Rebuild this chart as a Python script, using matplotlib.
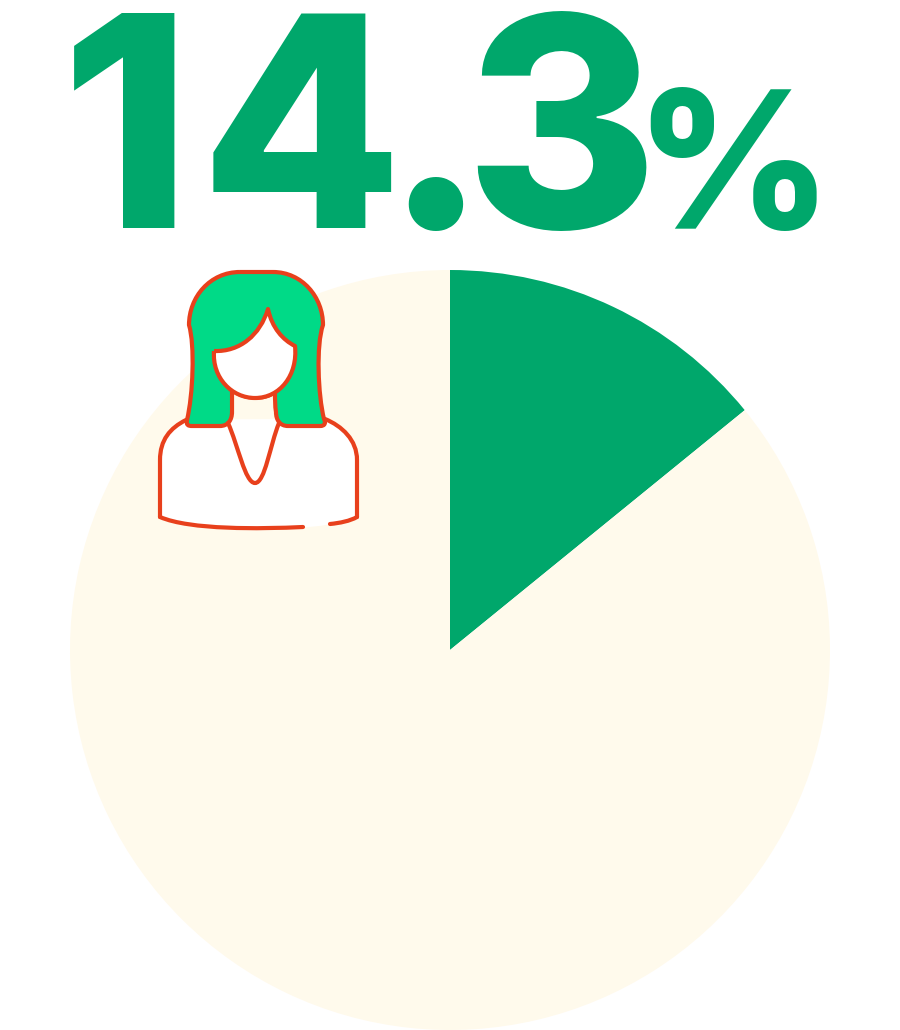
import matplotlib
matplotlib.use('Agg')
import matplotlib.pyplot as plt
from matplotlib.patches import PathPatch
from matplotlib.path import Path

# slice sizes as measured from the wedge edge, label as printed
share = [14.13, 85.87]
big_label = ['1', '4', '.', '3']
big_label_x = [126, 301, 435, 561]
small_label = '%'

GREEN = '#00a76b'
CREAM = '#fffaec'
HAIR = '#00da87'
RED = '#e8401c'
LW = 3.0


def curve(points):
    # first point is a moveto, the rest are cubic bezier triples
    codes = [Path.MOVETO] + [Path.CURVE4] * (len(points) - 1)
    return Path(points, codes)


def stroke(ax, points):
    ax.add_patch(PathPatch(curve(points), fc='none', ec=RED, lw=LW, zorder=5, capstyle='round'))


fig = plt.figure(figsize=(9, 10.3), dpi=100)

# pie spans x 70-830, y 270-1030
pie_ax = fig.add_axes([70 / 900, 0, 760 / 900, 760 / 1030])
pie_ax.pie(share, colors=[GREEN, CREAM], startangle=90, counterclock=False, radius=1)
pie_ax.set_xlim(-1, 1)
pie_ax.set_ylim(-1, 1)

# the reference sets its digits tighter than the font does, so place them one by one
for ch, x in zip(big_label, big_label_x):
    fig.text(x / 900, 1 - 228 / 1030, ch, fontsize=212, fontweight=800,
             family='Inter', color=GREEN, va='baseline', ha='center')
fig.text(733 / 900, 1 - 229 / 1030, small_label, fontsize=138, fontweight=800,
         family='Inter', color=GREEN, va='baseline', ha='center')

overlay = fig.add_axes([0, 0, 1, 1])
overlay.set_xlim(0, 900)
overlay.set_ylim(1030, 0)
overlay.axis('off')
overlay.patch.set_alpha(0)

# body
body = [(186, 420), (170, 428), (160, 440), (160, 460),
        (160, 480), (160, 500), (160, 517),
        (190, 530), (260, 529), (303, 527),
        (312, 527), (322, 526), (330, 524),
        (340, 523), (350, 521), (357, 517),
        (357, 500), (357, 480), (357, 460),
        (357, 440), (342, 426), (325, 419),
        (280, 419), (230, 419), (186, 420)]
overlay.add_patch(PathPatch(curve(body), fc='white', ec='none', zorder=2))
stroke(overlay, [(160, 517), (190, 530), (260, 529), (303, 527)])
stroke(overlay, [(330, 524), (340, 523), (350, 521), (357, 517)])
stroke(overlay, [(160, 517), (160, 500), (160, 480), (160, 460), (160, 440), (170, 428), (186, 420)])
stroke(overlay, [(357, 517), (357, 500), (357, 480), (357, 460), (357, 440), (342, 426), (325, 419)])

# collar
stroke(overlay, [(228, 423), (238, 445), (245, 483), (255, 483), (265, 483), (270, 445), (279, 423)])

# hair
hair = [(240, 272), (210, 272), (189, 297), (189, 325),
        (195, 345), (193, 395), (187, 420),
        (186, 425), (188, 426), (192, 426),
        (200, 426), (210, 426), (220, 426),
        (228, 426), (232, 420), (232, 412),
        (232, 405), (232, 398), (232, 390),
        (245, 400), (265, 400), (275, 392),
        (275, 400), (275, 406), (276, 412),
        (276, 420), (280, 426), (288, 426),
        (298, 426), (310, 426), (320, 426),
        (325, 426), (326, 423), (324, 419),
        (318, 395), (316, 345), (323, 325),
        (323, 297), (302, 272), (273, 272),
        (262, 272), (251, 272), (240, 272)]
overlay.add_patch(PathPatch(curve(hair), fc=HAIR, ec=RED, lw=LW, zorder=3, joinstyle='round'))

# face
face = [(214, 351), (240, 352), (260, 335), (268, 309),
        (272, 328), (283, 340), (295, 346),
        (298, 375), (280, 398), (255, 398),
        (232, 398), (212, 378), (214, 351)]
overlay.add_patch(PathPatch(curve(face), fc='white', ec=RED, lw=LW, zorder=4, joinstyle='round'))

fig.savefig('out.png', dpi=100, facecolor='white')
